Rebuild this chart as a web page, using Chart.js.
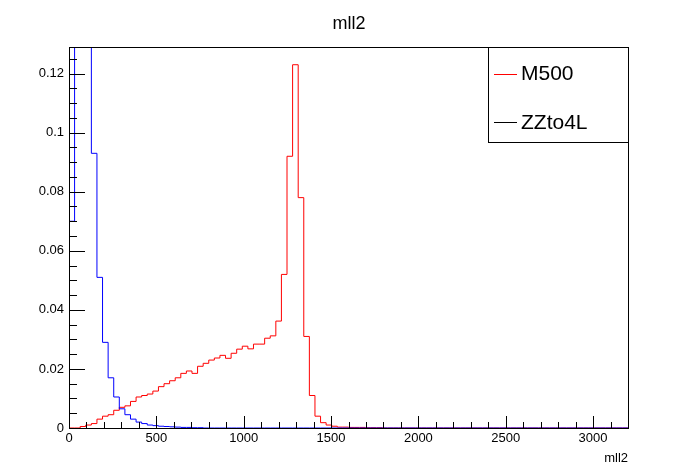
<!DOCTYPE html>
<html>
<head>
<meta charset="utf-8">
<script src="https://cdn.jsdelivr.net/npm/chart.js@4"></script>
<style>
  html, body { margin: 0; padding: 0; background: #fff; }
  #wrap { width: 698px; height: 476px; }
</style>
</head>
<body>
<div id="wrap"><canvas id="chart"></canvas></div>
<script>
const BIN_WIDTH = 32;
const xTicks = [0, 500, 1000, 1500, 2000, 2500, 3000];
const yTicks = [0, 0.02, 0.04, 0.06, 0.08, 0.1, 0.12];

// bin contents, 100 bins of width 32
const m500 = [0, 0, 0.0005, 0.001, 0.0015, 0.003, 0.004, 0.0045, 0.006, 0.007,
    0.0075, 0.009, 0.0105, 0.011, 0.0115, 0.0125, 0.014, 0.015, 0.016, 0.017,
    0.0185, 0.0193, 0.0185, 0.0209, 0.0219, 0.023, 0.0237, 0.0246, 0.0236, 0.0253,
    0.0267, 0.0277, 0.0268, 0.0284, 0.0284, 0.0304, 0.0312, 0.0362, 0.052, 0.092,
    0.123, 0.078, 0.031, 0.011, 0.004, 0.0018, 0.001, 0.0006, 0.0003, 0.0003,
    0.0002, 0.0002, 0.0002, 0.0001, 0.0001, 0.0001];
const zz4l = [0.07, 0.2, 0.25, 0.18, 0.093, 0.051, 0.029, 0.017, 0.0105, 0.0065,
    0.0045, 0.003, 0.002, 0.0015, 0.001, 0.0008, 0.0006, 0.0005, 0.0004, 0.0003,
    0.0002, 0.0002, 0.0001, 0.0001];

// one point per bin upper edge, plus the left edge
function toSteps(vals) {
    const pts = [{ x: 0, y: vals[0] || 0 }];
    for (let i = 0; i < 100; i++) pts.push({ x: (i + 1) * BIN_WIDTH, y: vals[i] || 0 });
    return pts;
}

const FONT = '"Liberation Sans", Arial, sans-serif';

const frame = {
    id: 'frame',
    afterDraw(chart) {
        const ctx = chart.ctx;
        const a = chart.chartArea;
        const xs = chart.scales.x, ys = chart.scales.y;
        ctx.save();
        ctx.strokeStyle = '#000';
        ctx.lineWidth = 1;
        ctx.strokeRect(a.left + 0.5, a.top + 0.5, a.right - a.left, a.bottom - a.top);
        ctx.beginPath();
        for (let v = 0; v <= 3200; v += 100) {
            const px = Math.round(xs.getPixelForValue(v)) + 0.5;
            const len = v % 500 === 0 ? 12 : 6;
            ctx.moveTo(px, a.bottom); ctx.lineTo(px, a.bottom - len);
        }
        for (let k = 0; k <= 26; k++) {
            const v = k * 0.005;
            if (v > ys.max) break;
            const py = Math.round(ys.getPixelForValue(v)) + 0.5;
            const len = k % 4 === 0 ? 16 : 8;
            ctx.moveTo(a.left, py); ctx.lineTo(a.left + len, py);
        }
        ctx.stroke();

        ctx.fillStyle = '#000';
        ctx.font = '13px ' + FONT;
        ctx.textAlign = 'center';
        ctx.textBaseline = 'top';
        xTicks.forEach(v => ctx.fillText(String(v), xs.getPixelForValue(v), a.bottom + 4));
        ctx.textAlign = 'right';
        ctx.textBaseline = 'middle';
        yTicks.forEach(v => ctx.fillText(String(v), a.left - 5, ys.getPixelForValue(v)));
        ctx.textAlign = 'right';
        ctx.textBaseline = 'alphabetic';
        ctx.fillText('mll2', a.right, 462);
        ctx.font = '18px ' + FONT;
        ctx.textAlign = 'center';
        ctx.fillText('mll2', 349, 29);

        // legend box
        ctx.fillStyle = '#fff';
        ctx.fillRect(488, a.top, a.right - 488, 95);
        ctx.strokeRect(488.5, a.top + 0.5, a.right - 488, 95);
        ctx.beginPath();
        ctx.strokeStyle = '#ff0000';
        ctx.moveTo(494, 74.5); ctx.lineTo(517, 74.5); ctx.stroke();
        ctx.beginPath();
        ctx.strokeStyle = '#000';
        ctx.moveTo(494, 122.5); ctx.lineTo(517, 122.5); ctx.stroke();
        ctx.fillStyle = '#000';
        ctx.font = '21px ' + FONT;
        ctx.textAlign = 'left';
        ctx.textBaseline = 'middle';
        ctx.fillText('M500', 521, 74);
        ctx.fillText('ZZto4L', 521, 123);
        ctx.restore();
    }
};

new Chart(document.getElementById('chart'), {
    type: 'line',
    data: {
        datasets: [
            { label: 'ZZto4L', data: toSteps(zz4l), borderColor: '#0000ff', borderWidth: 1, stepped: 'after', pointRadius: 0, fill: false },
            { label: 'M500', data: toSteps(m500), borderColor: '#ff0000', borderWidth: 1, stepped: 'after', pointRadius: 0, fill: false }
        ]
    },
    options: {
        responsive: true,
        maintainAspectRatio: false,
        animation: false,
        layout: { padding: { top: 47, right: 70, left: 0, bottom: 0 } },
        plugins: { legend: { display: false }, title: { display: false }, tooltip: { enabled: false } },
        scales: {
            x: {
                type: 'linear', min: 0, max: 3200,
                grid: { display: false }, border: { display: false },
                ticks: { display: false },
                afterFit(s) { s.height = 48; }
            },
            y: {
                min: 0, max: 0.129,
                grid: { display: false }, border: { display: false },
                ticks: { display: false },
                afterFit(s) { s.width = 69; }
            }
        }
    },
    plugins: [frame]
});
</script>
</body>
</html>
